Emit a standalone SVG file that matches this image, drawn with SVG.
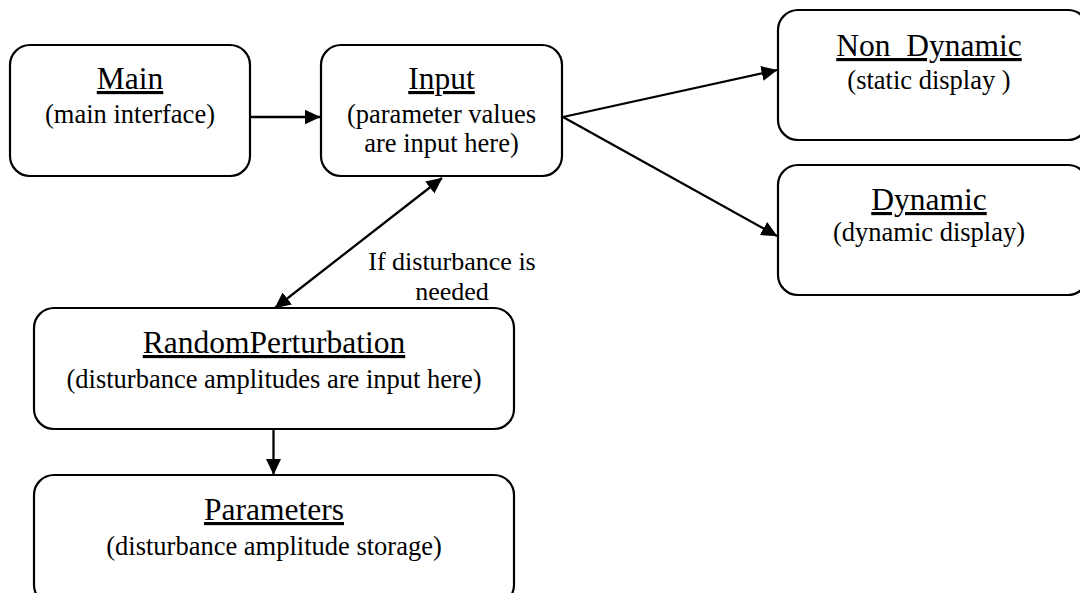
<svg xmlns="http://www.w3.org/2000/svg" width="1080" height="593" viewBox="0 0 1080 593">
<style>
.box{fill:#fff;stroke:#000;stroke-width:2.2}
.t{font-family:"Liberation Serif","Times New Roman",serif;fill:#000;text-anchor:middle}
.title{font-size:31.5px;text-decoration:underline}
.sub{font-size:26.5px}
.lbl{font-size:26px}
.edge{stroke:#000;stroke-width:2.3;fill:none}
</style>
<defs>
<marker id="ah" markerUnits="userSpaceOnUse" markerWidth="16" markerHeight="16" refX="15.5" refY="7.5" orient="auto-start-reverse">
<path d="M0,0 L16,7.5 L0,15 Z" fill="#000"/>
</marker>
</defs>
<rect width="1080" height="593" fill="#fff"/>
<g id="connectors">
<line class="edge" x1="251" y1="117" x2="320" y2="117" marker-end="url(#ah)"/>
<line class="edge" x1="563" y1="117" x2="777" y2="70" marker-end="url(#ah)"/>
<line class="edge" x1="563" y1="117" x2="777" y2="236" marker-end="url(#ah)"/>
<line class="edge" x1="442" y1="178" x2="275" y2="308" marker-start="url(#ah)" marker-end="url(#ah)"/>
<line class="edge" x1="273.5" y1="430" x2="273.5" y2="474.5" marker-end="url(#ah)"/>
<text class="t lbl" x="452" y="270">If disturbance is</text>
<text class="t lbl" x="452" y="300">needed</text>
</g>
<g id="main">
<rect class="box" x="10" y="45" width="240" height="131" rx="20"/>
<text class="t title" x="130" y="89">Main</text>
<text class="t sub" x="130" y="123">(main interface)</text>
</g>
<g id="input">
<rect class="box" x="321" y="45" width="241" height="131" rx="20"/>
<text class="t title" x="441.5" y="89">Input</text>
<text class="t sub" x="441.5" y="123">(parameter values</text>
<text class="t sub" x="441.5" y="152">are input here)</text>
</g>
<g id="non_dynamic">
<rect class="box" x="778" y="10" width="310" height="130" rx="20"/>
<text class="t title" x="929" y="56">Non_Dynamic</text>
<text class="t sub" x="929" y="89">(static display )</text>
</g>
<g id="dynamic">
<rect class="box" x="778" y="165" width="310" height="130" rx="20"/>
<text class="t title" x="929" y="210">Dynamic</text>
<text class="t sub" x="929" y="241">(dynamic display)</text>
</g>
<g id="random_perturbation">
<rect class="box" x="34" y="308" width="480" height="121" rx="20"/>
<text class="t title" x="274" y="353">RandomPerturbation</text>
<text class="t sub" x="274" y="388">(disturbance amplitudes are input here)</text>
</g>
<g id="parameters">
<rect class="box" x="34" y="475" width="480" height="130" rx="20"/>
<text class="t title" x="274" y="520">Parameters</text>
<text class="t sub" x="274" y="555">(disturbance amplitude storage)</text>
</g>
</svg>
